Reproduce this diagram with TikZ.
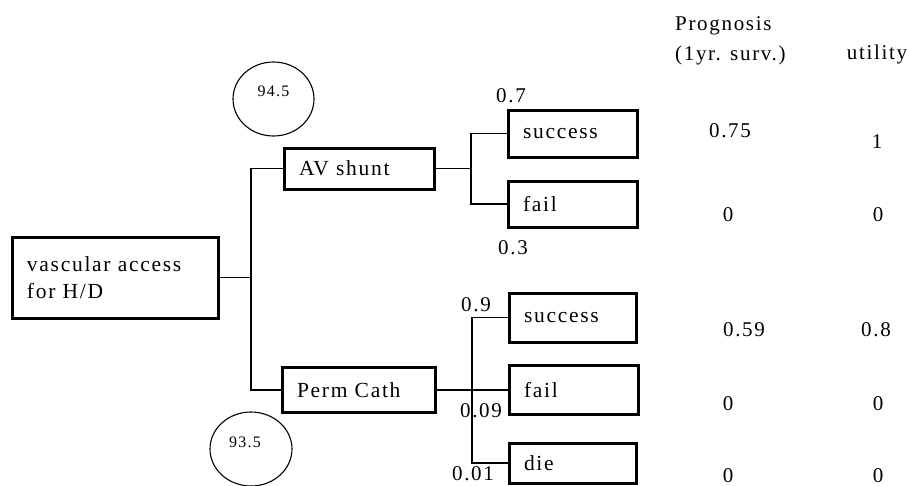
\documentclass[tikz,border=0pt]{standalone}
\usepackage{fontspec}
\usetikzlibrary{shapes.geometric}
\setmainfont{Liberation Serif}[LetterSpace=8]
\begin{document}
\begin{tikzpicture}[x=1pt,y=-1pt,
  box/.style={draw,line width=3pt,inner xsep=15pt,inner ysep=0pt,align=left,font=\fontsize{21.5}{27}\selectfont},
  conn/.style={line width=1.2pt},
  lbl/.style={font=\fontsize{21}{25}\selectfont,inner sep=0pt,anchor=base},
  val/.style={font=\fontsize{16}{18}\selectfont,inner sep=0pt,anchor=base},
  oval/.style={draw,ellipse,line width=1.1pt,inner sep=0pt}]
\useasboundingbox (0,0) rectangle (907,485);
% boxes
\node[box,text width=176pt,minimum height=81pt] (root) at (115,277.5) {vascular access\\for H/D};
\node[box,text width=120pt,minimum height=41pt] (av) at (359,168.5) {AV shunt};
\node[box,text width=123pt,minimum height=45pt] (pc) at (358.5,390) {Perm Cath};
\node[box,text width=99pt,minimum height=47pt] (s1) at (572.5,133.5) {success};
\node[box,text width=99pt,minimum height=46pt] (f1) at (572.5,204) {fail};
\node[box,text width=97pt,minimum height=49pt] (s2) at (572.5,317.5) {success};
\node[box,text width=99pt,minimum height=49pt] (f2) at (573.5,390) {fail};
\node[box,text width=97pt,minimum height=40pt] (d2) at (572.5,463) {die};
% junctions
\coordinate (j1) at (251,277.5);
\coordinate (j2) at (471,168.5);
\coordinate (j3) at (472,390);
\draw[conn] (root.east) -- (j1);
\draw[conn] (av.west) -| (j1) |- (pc.west);
\draw[conn] (av.east) -- (j2);
\draw[conn] (s1.west) -| (j2) |- (f1.west);
\draw[conn] (pc.east) -- (f2.west);
\draw[conn] (s2.west) -| (j3) |- (d2.west);
% probability labels
\node[lbl] (p07) at (511,102) {0.7};
\node[lbl] (p03) at (513,254) {0.3};
\node[lbl] (p09) at (476,311) {0.9};
\node[lbl] (p009) at (481,417) {0.09};
\node[lbl] (p001) at (473,480) {0.01};
% value circles
\node[oval,minimum width=81pt,minimum height=74pt] (c1) at (273.5,99) {};
\node[val] (c1t) at (273.5,96) {94.5};
\node[oval,minimum width=82pt,minimum height=74pt] (c2) at (251,449) {};
\node[val] (c2t) at (245,447) {93.5};
% headers
\node[lbl,anchor=base west] (h1) at (675,30) {Prognosis};
\node[lbl,anchor=base west] (h2) at (675,60) {(1yr. surv.)};
\node[lbl] (h3) at (877,59) {utility};
% values
\node[lbl] (a1) at (730,137) {0.75};
\node[lbl] (b1) at (877,148) {1};
\node[lbl] (a2) at (728,221) {0};
\node[lbl] (b2) at (878,221) {0};
\node[lbl] (a3) at (744,336) {0.59};
\node[lbl] (b3) at (876,336) {0.8};
\node[lbl] (a4) at (728,410) {0};
\node[lbl] (b4) at (878,410) {0};
\node[lbl] (a5) at (728,482) {0};
\node[lbl] (b5) at (878,482) {0};
\end{tikzpicture}
\end{document}
